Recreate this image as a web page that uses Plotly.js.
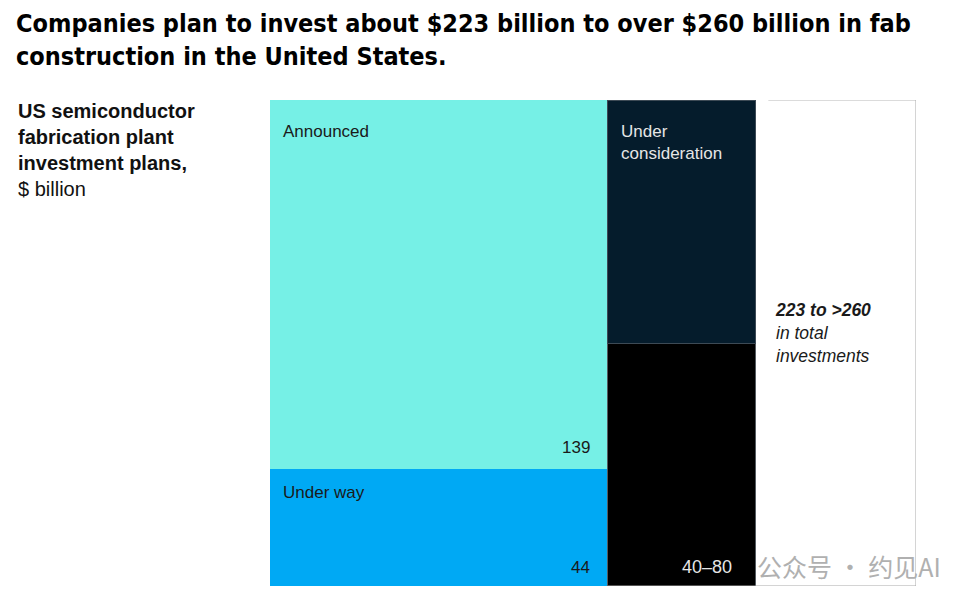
<!DOCTYPE html>
<html>
<head>
<meta charset="utf-8">
<script src="https://cdn.plot.ly/plotly-3.0.1.min.js"></script>
<style>html,body{margin:0;padding:0;background:#fff;}#chart{width:972px;height:611px;}</style>
</head>
<body>
<div id="chart"></div>
<script>
// ---- data ($ billion) ----
const columns = ["Announced / under way", "Under consideration"];
const segmentNames = ["Under way", "Announced", "Under consideration (low)", "Under consideration (upper range)"];
const leftValues = [44, 139];          // Under way, Announced
const rightLow = 40;                   // Under consideration, lower bound
const rightHigh = 80;                  // Under consideration, upper bound
const valueLabels = ["44", "139", "40–80"];
const totalLabel = ["223 to >260", "in total", "investments"];

// ---- derived geometry through data units ----
const leftTotal = leftValues[0] + leftValues[1];   // 183
const rightTotal = rightHigh;                       // 80
const leftMid = leftTotal / 2;
const rightMid = leftTotal + rightTotal / 2;
const colEnd = leftTotal + rightTotal;
const boxGap = 7;
const boxStart = colEnd + boxGap;
const boxEnd = boxStart + rightTotal;

const fUnderWay = leftValues[0] / leftTotal;
const fAnnounced = leftValues[1] / leftTotal;
const fLow = rightLow / rightHigh;
const fUpper = (rightHigh - rightLow) / rightHigh;

const traces = [
  {type:'bar', name: segmentNames[0], x:[leftMid], y:[fUnderWay], width:[leftTotal],
   marker:{color:'#00A9F4', line:{width:0}}, hoverinfo:'skip'},
  {type:'bar', name: segmentNames[1], x:[leftMid], y:[fAnnounced], width:[leftTotal],
   marker:{color:'#76F0E6', line:{width:0}}, hoverinfo:'skip'},
  {type:'bar', name: segmentNames[2], x:[rightMid], y:[fLow], width:[rightTotal],
   marker:{color:'#000000', line:{width:1, color:'#555b60'}}, hoverinfo:'skip'},
  {type:'bar', name: segmentNames[3], x:[rightMid], y:[fUpper], width:[rightTotal],
   marker:{color:'#051C2C', line:{width:1, color:'#3d4a55'}}, hoverinfo:'skip'}
];

const FF = 'Liberation Sans, Arial, sans-serif';
const lblFont = {family:FF, size:17, color:'#1a1a1a'};
const whiteFont = {family:FF, size:17, color:'#e6e6e6'};

const annotations = [
  {xref:'paper', yref:'paper', x:0, y:1, xanchor:'left', yanchor:'top', xshift:-256, yshift:93,
   text:'<b>Companies plan to invest about $223 billion to over $260 billion in fab<br>construction in the United States.</b>',
   showarrow:false, align:'left',
   font:{family:'DejaVu Sans Condensed, Arial Narrow, sans-serif', size:25, color:'#000'}},
  {xref:'x', yref:'y', x:0, y:1, xanchor:'left', yanchor:'top', xshift:11, yshift:-20,
   text:segmentNames[1], showarrow:false, font:lblFont, align:'left'},
  {xref:'x', yref:'y', x:0, y:fUnderWay, xanchor:'left', yanchor:'top', xshift:11, yshift:-12,
   text:segmentNames[0], showarrow:false, font:lblFont, align:'left'},
  {xref:'x', yref:'y', x:leftTotal, y:1, xanchor:'left', yanchor:'top', xshift:11, yshift:-20,
   text:'Under<br>consideration', showarrow:false, font:whiteFont, align:'left'},
  {xref:'x', yref:'y', x:leftTotal, y:fUnderWay, xanchor:'right', yanchor:'bottom', xshift:-16, yshift:10,
   text:valueLabels[1], showarrow:false, font:lblFont},
  {xref:'x', yref:'y', x:leftTotal, y:0, xanchor:'right', yanchor:'bottom', xshift:-16, yshift:7,
   text:valueLabels[0], showarrow:false, font:lblFont},
  {xref:'x', yref:'y', x:colEnd, y:0, xanchor:'right', yanchor:'bottom', xshift:-21, yshift:7,
   text:valueLabels[2], showarrow:false, font:{family:FF, size:18, color:'#e6e6e6'}},
  {xref:'x', yref:'paper', x:boxStart, y:0.52, xanchor:'left', yanchor:'middle', xshift:5,
   text:'<b><i>'+totalLabel[0]+'</i></b><br><i>'+totalLabel[1]+'</i><br><i>'+totalLabel[2]+'</i>',
   showarrow:false, align:'left', font:{family:FF, size:17.5, color:'#1a1a1a'}},
  {xref:'paper', yref:'paper', x:0, y:1, xanchor:'left', yanchor:'top', xshift:-254, yshift:2,
   text:'<b>US semiconductor<br>fabrication plant<br>investment plans,</b><br>$ billion',
   showarrow:false, align:'left', font:{family:FF, size:20, color:'#111'}},
  {xref:'paper', yref:'paper', x:1, y:0, xanchor:'right', yanchor:'bottom', xshift:27, yshift:0,
   text:'公众号 · 约见AI', showarrow:false,
   font:{family:'Noto Sans CJK SC, sans-serif', size:25, color:'#b0b0b0'}}
];

const shapes = [
  {type:'line', xref:'x', yref:'y', x0:boxStart, x1:boxEnd, y0:1, y1:1, line:{color:'#cfcfcf', width:1.5}},
  {type:'line', xref:'x', yref:'y', x0:boxEnd, x1:boxEnd, y0:0, y1:1, line:{color:'#a8a8a8', width:1}},
  {type:'line', xref:'x', yref:'y', x0:leftTotal, x1:boxEnd, y0:0, y1:0, line:{color:'#a8a8a8', width:1}}
];

const layout = {
  width:972, height:611,
  margin:{l:270, r:56, t:100, b:25},
  paper_bgcolor:'#fff', plot_bgcolor:'#fff',
  showlegend:false,
  barmode:'stack', bargap:0,
  xaxis:{range:[0, boxEnd], showgrid:false, zeroline:false, showticklabels:false, showline:false, ticks:'', fixedrange:true},
  yaxis:{range:[0, 1], showgrid:false, zeroline:false, showticklabels:false, showline:false, ticks:'', fixedrange:true},
  annotations: annotations,
  shapes: shapes
};

Plotly.newPlot('chart', traces, layout, {displayModeBar:false, staticPlot:true});
</script>
</body>
</html>
